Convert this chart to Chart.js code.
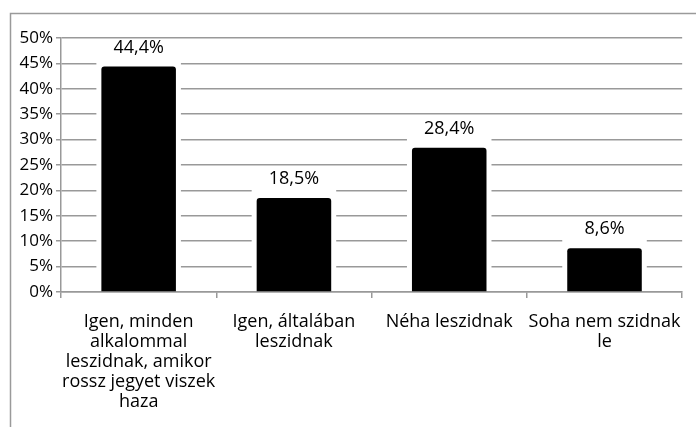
<!DOCTYPE html>
<html>
<head>
<meta charset="utf-8">
<script src="https://cdn.jsdelivr.net/npm/chart.js@4"></script>
<style>
  body { margin: 0; background: #fff; }
  #wrap { width: 696px; height: 427px; }
</style>
</head>
<body>
<div id="wrap"><canvas id="chart" width="696" height="427"></canvas></div>
<script>
// data
const categories = [
  ['Igen, minden', 'alkalommal', 'leszidnak, amikor', 'rossz jegyet viszek', 'haza'],
  ['Igen, általában', 'leszidnak'],
  ['Néha leszidnak'],
  ['Soha nem szidnak', 'le']
];
const values = [44.4, 18.5, 28.4, 8.6];
const valueLabels = ['44,4%', '18,5%', '28,4%', '8,6%'];

const FONT = '"Open Sans", sans-serif';
const GRID = '#999999';

// outer frame (left + top edge)
const framePlugin = {
  id: 'frame',
  beforeDraw(chart) {
    const ctx = chart.ctx;
    ctx.save();
    ctx.strokeStyle = '#9a9a9a';
    ctx.lineWidth = 1.5;
    ctx.beginPath();
    ctx.moveTo(10.5, chart.height);
    ctx.lineTo(10.5, 13.5);
    ctx.lineTo(chart.width, 13.5);
    ctx.stroke();
    ctx.restore();
  }
};

// white gaps around bars and value labels, then the labels
const labelPlugin = {
  id: 'valueLabels',
  beforeDatasetsDraw(chart) {
    const ctx = chart.ctx;
    const meta = chart.getDatasetMeta(0);
    ctx.save();
    ctx.fillStyle = '#fff';
    meta.data.forEach(el => {
      const w = el.width + 10;
      const top = el.y - 27;
      ctx.fillRect(el.x - w / 2, top, w, el.base - 1.5 - top);
    });
    ctx.restore();
  },
  afterDatasetsDraw(chart) {
    const ctx = chart.ctx;
    const meta = chart.getDatasetMeta(0);
    ctx.save();
    ctx.fillStyle = '#000';
    ctx.font = '18px ' + FONT;
    ctx.textAlign = 'center';
    ctx.textBaseline = 'middle';
    meta.data.forEach((el, i) => {
      ctx.fillText(valueLabels[i], el.x, el.y - 19);
    });
    ctx.restore();
  }
};

new Chart(document.getElementById('chart').getContext('2d'), {
  type: 'bar',
  data: {
    labels: categories,
    datasets: [{
      data: values,
      backgroundColor: '#000',
      borderWidth: 0,
      borderRadius: 3,
      borderSkipped: 'bottom',
      categoryPercentage: 1,
      barPercentage: 0.48
    }]
  },
  options: {
    responsive: false,
    animation: false,
    layout: { padding: { top: 38, right: 12, left: 0, bottom: 0 } },
    plugins: { legend: { display: false }, tooltip: { enabled: false } },
    scales: {
      x: {
        afterFit: s => { s.height = 135; },
        grid: { offset: true, drawOnChartArea: false, drawTicks: true, tickLength: 6, color: GRID, lineWidth: 1.5 },
        border: { color: GRID, width: 1.5 },
        ticks: {
          color: '#000',
          padding: 14,
          maxRotation: 0,
          autoSkip: false,
          font: { family: FONT, size: 18, lineHeight: '20px' }
        }
      },
      y: {
        min: 0,
        max: 50,
        afterFit: s => { s.width = 61; },
        grid: { color: GRID, lineWidth: 1.5, tickLength: 5 },
        border: { color: GRID, width: 1.5 },
        ticks: {
          stepSize: 5,
          color: '#000',
          padding: 3,
          font: { family: FONT, size: 17 },
          callback: v => v + '%'
        }
      }
    }
  },
  plugins: [framePlugin, labelPlugin]
});
</script>
</body>
</html>
